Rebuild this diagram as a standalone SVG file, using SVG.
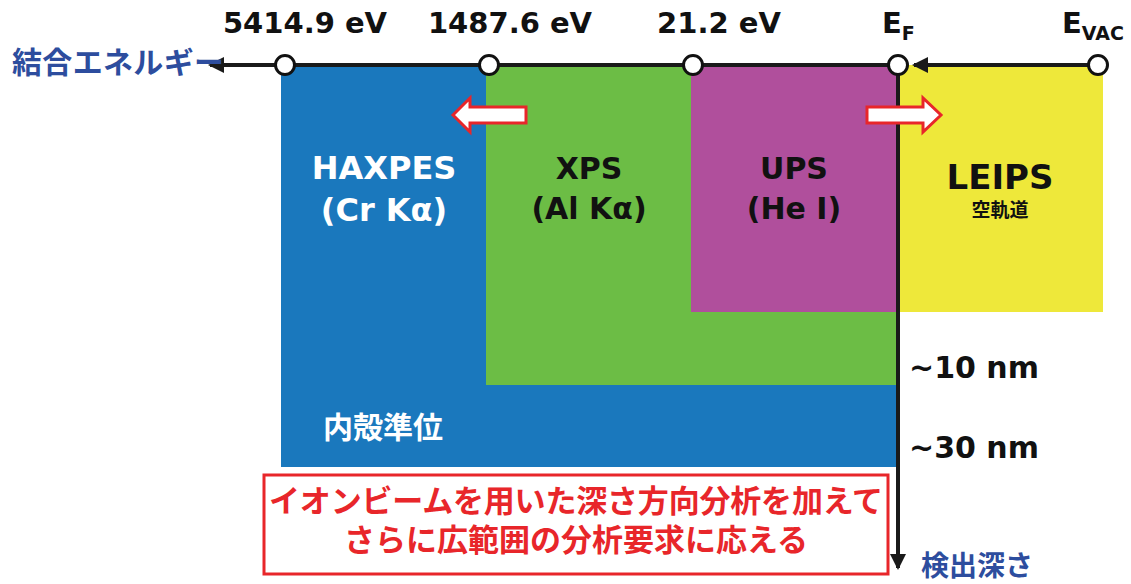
<svg xmlns="http://www.w3.org/2000/svg" width="1131" height="584" viewBox="0 0 1131 584">
<style>
.lbl{font-family:"DejaVu Sans",Verdana,sans-serif;font-weight:bold;}
.jp{font-family:"Noto Sans CJK JP","Noto Sans",sans-serif;font-weight:bold;}
.w{fill:#fff;}
.k{fill:#111;}
.ln{stroke:#1a1a1a;stroke-width:4;fill:none;}
.dot{fill:#fff;stroke:#111;stroke-width:3;}
.ra{fill:#fff;stroke:#e8262a;stroke-width:3;}
</style>
<defs>
<marker id="ah" markerWidth="4" markerHeight="4" refX="3.5" refY="2" orient="auto" markerUnits="strokeWidth">
<path d="M0,0 L4,2 L0,4 Z" fill="#1a1a1a"/>
</marker>
</defs>
<g id="haxpes">
<rect x="281" y="65" width="617" height="402" fill="#1a78bd"/>
<text class="lbl w" x="384" y="179" font-size="32" text-anchor="middle">HAXPES</text>
<text class="lbl w" x="384" y="221" font-size="32" text-anchor="middle">(Cr Kα)</text>
<text class="jp w" x="383" y="438" font-size="30" text-anchor="middle">内殻準位</text>
</g>
<g id="xps">
<rect x="486" y="65" width="412" height="320" fill="#6cbd45"/>
<text class="lbl k" x="589" y="179" font-size="30" text-anchor="middle">XPS</text>
<text class="lbl k" x="589" y="219" font-size="30" text-anchor="middle">(Al Kα)</text>
</g>
<g id="ups">
<rect x="691" y="65" width="207" height="247" fill="#b04f9c"/>
<text class="lbl k" x="794" y="179" font-size="30" text-anchor="middle">UPS</text>
<text class="lbl k" x="794" y="219" font-size="30" text-anchor="middle">(He I)</text>
</g>
<g id="leips">
<rect x="900" y="65" width="203" height="247" fill="#eee83a"/>
<text class="lbl k" x="1000" y="189" font-size="34" text-anchor="middle">LEIPS</text>
<text class="jp k" x="1000" y="217" font-size="19" text-anchor="middle">空軌道</text>
</g>
<g id="connectors">
<line class="ln" x1="898" y1="65" x2="210" y2="65" marker-end="url(#ah)"/>
<line class="ln" x1="1098" y1="65" x2="914" y2="65" marker-end="url(#ah)"/>
<line class="ln" x1="898" y1="65" x2="898" y2="568" marker-end="url(#ah)"/>
<path class="ra" d="M526,107 L470,107 L470,98 L453,115 L470,132 L470,123 L526,123 Z"/>
<path class="ra" d="M867,107 L923,107 L923,98 L941,115 L923,132 L923,123 L867,123 Z"/>
</g>
<g id="points">
<circle class="dot" cx="285" cy="65" r="9.5"/>
<circle class="dot" cx="489" cy="65" r="9.5"/>
<circle class="dot" cx="693" cy="65" r="9.5"/>
<circle class="dot" cx="898" cy="65" r="9.5"/>
<circle class="dot" cx="1098" cy="65" r="9.5"/>
</g>
<g id="labels">
<text class="lbl k" x="305" y="33" font-size="29" text-anchor="middle">5414.9 eV</text>
<text class="lbl k" x="510" y="33" font-size="29" text-anchor="middle">1487.6 eV</text>
<text class="lbl k" x="719" y="33" font-size="29" text-anchor="middle">21.2 eV</text>
<text class="lbl k" x="882" y="33" font-size="29">E<tspan font-size="19" dy="7">F</tspan></text>
<text class="lbl k" x="1062" y="33" font-size="29">E<tspan font-size="19" dy="7">VAC</tspan></text>
<text class="jp" x="12" y="73" font-size="30" fill="#2d4d9e" textLength="212">結合エネルギー</text>
<text class="lbl k" x="909" y="378" font-size="30">~10 nm</text>
<text class="lbl k" x="909" y="458" font-size="30">~30 nm</text>
<text class="jp" x="921" y="576" font-size="28" fill="#2d4d9e">検出深さ</text>
</g>
<g id="note">
<rect x="264" y="475" width="624" height="99" fill="#fff" stroke="#e8262a" stroke-width="3"/>
<text class="jp" x="576" y="512" font-size="31" fill="#e8262a" text-anchor="middle" textLength="614">イオンビームを用いた深さ方向分析を加えて</text>
<text class="jp" x="576" y="551" font-size="31" fill="#e8262a" text-anchor="middle">さらに広範囲の分析要求に応える</text>
</g>
</svg>
